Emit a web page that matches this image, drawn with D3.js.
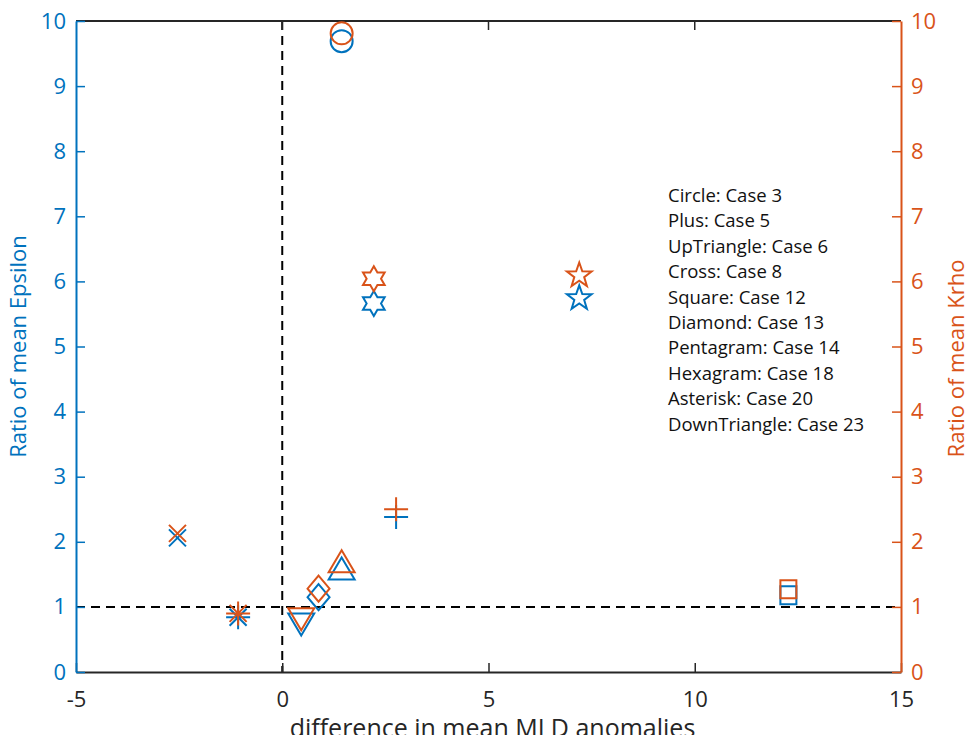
<!DOCTYPE html>
<html>
<head>
<meta charset="utf-8">
<script src="https://cdn.jsdelivr.net/npm/d3@7"></script>
<style>
  body { margin: 0; background: #fff; }
  svg text { font-family: "Open Sans", "Noto Sans", sans-serif; }
</style>
</head>
<body>
<svg id="chart" width="970" height="735"></svg>
<script>
// data
const cases = ["Case 3", "Case 5", "Case 6", "Case 8", "Case 12", "Case 13", "Case 14", "Case 18", "Case 20", "Case 23"];
const markers = ["circle", "plus", "upTriangle", "cross", "square", "diamond", "pentagram", "hexagram", "asterisk", "downTriangle"];
const mldDiff = [1.44, 2.76, 1.44, -2.54, 12.27, 0.88, 7.2, 2.22, -1.07, 0.46];
const epsilonRatio = [9.69, 2.38, 1.56, 2.06, 1.18, 1.15, 5.74, 5.66, 0.84, 0.76];
const krhoRatio = [9.81, 2.5, 1.67, 2.13, 1.27, 1.28, 6.09, 6.04, 0.9, 0.84];
const legendLabels = ["Circle", "Plus", "UpTriangle", "Cross", "Square", "Diamond", "Pentagram", "Hexagram", "Asterisk", "DownTriangle"];
const xTicks = [-5, 0, 5, 10, 15];
const yTicks = d3.range(0, 11);

const blue = "#0072BD";
const orange = "#D95319";

const svg = d3.select("svg#chart");
const margin = { top: 21, right: 69, bottom: 63, left: 76 };
const width = +svg.attr("width");
const height = +svg.attr("height");
const plotW = width - margin.left - margin.right;
const plotH = height - margin.top - margin.bottom;

const x = d3.scaleLinear().domain([-5, 15]).range([0, plotW]);
const yL = d3.scaleLinear().domain([0, 10]).range([plotH, 0]);
const yR = d3.scaleLinear().domain([0, 10]).range([plotH, 0]);

const g = svg.append("g").attr("transform", `translate(${margin.left},${margin.top})`);

// marker shapes (MATLAB style)
function markerPath(type) {
  const p = d3.path();
  if (type === "circle") {
    p.moveTo(11, 0);
    p.arc(0, 0, 11, 0, 2 * Math.PI);
  } else if (type === "plus") {
    p.moveTo(-12, 0); p.lineTo(12, 0);
    p.moveTo(0, -12); p.lineTo(0, 12);
  } else if (type === "cross") {
    p.moveTo(-8.5, -8.5); p.lineTo(8.5, 8.5);
    p.moveTo(-8.5, 8.5); p.lineTo(8.5, -8.5);
  } else if (type === "asterisk") {
    p.moveTo(-12, 0); p.lineTo(12, 0);
    p.moveTo(0, -12); p.lineTo(0, 12);
    p.moveTo(-8.5, -8.5); p.lineTo(8.5, 8.5);
    p.moveTo(-8.5, 8.5); p.lineTo(8.5, -8.5);
  } else if (type === "square") {
    p.rect(-8, -9, 16, 18);
  } else if (type === "diamond") {
    p.moveTo(0, -13); p.lineTo(11, 0); p.lineTo(0, 13); p.lineTo(-11, 0); p.closePath();
  } else if (type === "upTriangle") {
    p.moveTo(0, -13); p.lineTo(13, 9); p.lineTo(-13, 9); p.closePath();
  } else if (type === "downTriangle") {
    p.moveTo(0, 13); p.lineTo(13, -9); p.lineTo(-13, -9); p.closePath();
  } else if (type === "pentagram") {
    const ro = 13, ri = 5.2;
    for (let i = 0; i < 10; i++) {
      const r = i % 2 === 0 ? ro : ri;
      const a = -Math.PI / 2 + i * Math.PI / 5;
      if (i === 0) p.moveTo(r * Math.cos(a), r * Math.sin(a));
      else p.lineTo(r * Math.cos(a), r * Math.sin(a));
    }
    p.closePath();
  } else if (type === "hexagram") {
    const ro = 12.5, ri = 7.2;
    for (let i = 0; i < 12; i++) {
      const r = i % 2 === 0 ? ro : ri;
      const a = -Math.PI / 2 + i * Math.PI / 6;
      if (i === 0) p.moveTo(r * Math.cos(a), r * Math.sin(a));
      else p.lineTo(r * Math.cos(a), r * Math.sin(a));
    }
    p.closePath();
  }
  return p.toString();
}

// reference dashed lines
g.append("line")
  .attr("x1", x(0)).attr("x2", x(0))
  .attr("y1", 0).attr("y2", plotH)
  .attr("stroke", "black").attr("stroke-width", 2)
  .attr("stroke-dasharray", "9,6");
g.append("line")
  .attr("x1", 0).attr("x2", plotW)
  .attr("y1", yL(1)).attr("y2", yL(1))
  .attr("stroke", "black").attr("stroke-width", 2)
  .attr("stroke-dasharray", "9,6");

// box top
g.append("line").attr("x1", 0).attr("x2", plotW).attr("y1", 0).attr("y2", 0)
  .attr("stroke", "#262626").attr("stroke-width", 2);

const plainFmt = (d) => String(d);

// bottom axis
const xAxis = g.append("g")
  .attr("transform", `translate(0,${plotH})`)
  .call(d3.axisBottom(x).tickValues(xTicks).tickFormat(plainFmt).tickSizeInner(-9).tickSizeOuter(0).tickPadding(19));
xAxis.select(".domain").attr("stroke", "#262626").attr("stroke-width", 2);
xAxis.selectAll(".tick line").attr("stroke", "#262626").attr("stroke-width", 1.5);
xAxis.selectAll("text").attr("font-size", 22).attr("fill", "#262626");

// top ticks
g.selectAll("line.topTick")
  .data(xTicks.slice(1, -1))
  .join("line")
  .attr("class", "topTick")
  .attr("x1", (d) => x(d)).attr("x2", (d) => x(d))
  .attr("y1", 0).attr("y2", 9)
  .attr("stroke", "#262626").attr("stroke-width", 1.5);

// left axis
const leftAxis = g.append("g")
  .call(d3.axisLeft(yL).tickValues(yTicks).tickFormat(plainFmt).tickSizeInner(-9).tickSizeOuter(0).tickPadding(10));
leftAxis.select(".domain").attr("stroke", blue).attr("stroke-width", 2);
leftAxis.selectAll(".tick line").attr("stroke", blue).attr("stroke-width", 1.5);
leftAxis.selectAll("text").attr("font-size", 22).attr("fill", blue);

// right axis
const rightAxis = g.append("g")
  .attr("transform", `translate(${plotW},0)`)
  .call(d3.axisRight(yR).tickValues(yTicks).tickFormat(plainFmt).tickSizeInner(-9).tickSizeOuter(0).tickPadding(10));
rightAxis.select(".domain").attr("stroke", orange).attr("stroke-width", 2);
rightAxis.selectAll(".tick line").attr("stroke", orange).attr("stroke-width", 1.5);
rightAxis.selectAll("text").attr("font-size", 22).attr("fill", orange);

// axis labels
svg.append("text")
  .attr("transform", `translate(26,${margin.top + plotH / 2}) rotate(-90)`)
  .attr("text-anchor", "middle")
  .attr("font-size", 22)
  .attr("fill", blue)
  .text("Ratio of mean Epsilon");
svg.append("text")
  .attr("transform", `translate(964,${margin.top + plotH / 2 + 12}) rotate(-90)`)
  .attr("text-anchor", "middle")
  .attr("font-size", 22)
  .attr("fill", orange)
  .text("Ratio of mean Krho");
svg.append("text")
  .attr("x", margin.left + plotW / 2 + 4)
  .attr("y", 737)
  .attr("text-anchor", "middle")
  .attr("font-size", 25)
  .attr("fill", "#262626")
  .text("difference in mean MLD anomalies");

// points: epsilon (left, blue) then krho (right, orange)
const pts = markers.map((m, i) => ({ m, x: mldDiff[i], eps: epsilonRatio[i], krho: krhoRatio[i] }));

g.selectAll("path.eps")
  .data(pts)
  .join("path")
  .attr("class", "eps")
  .attr("transform", (d) => `translate(${x(d.x)},${yL(d.eps)})`)
  .attr("d", (d) => markerPath(d.m))
  .attr("fill", "none")
  .attr("stroke", blue)
  .attr("stroke-width", 2);

g.selectAll("path.krho")
  .data(pts)
  .join("path")
  .attr("class", "krho")
  .attr("transform", (d) => `translate(${x(d.x)},${yR(d.krho)})`)
  .attr("d", (d) => markerPath(d.m))
  .attr("fill", "none")
  .attr("stroke", orange)
  .attr("stroke-width", 2);

// legend text
svg.append("g")
  .selectAll("text")
  .data(legendLabels)
  .join("text")
  .attr("x", 668)
  .attr("y", (d, i) => 202 + i * 25.4)
  .attr("font-size", 18.5)
  .attr("font-weight", 500)
  .attr("fill", "#111")
  .text((d, i) => d + ": " + cases[i]);
</script>
</body>
</html>
